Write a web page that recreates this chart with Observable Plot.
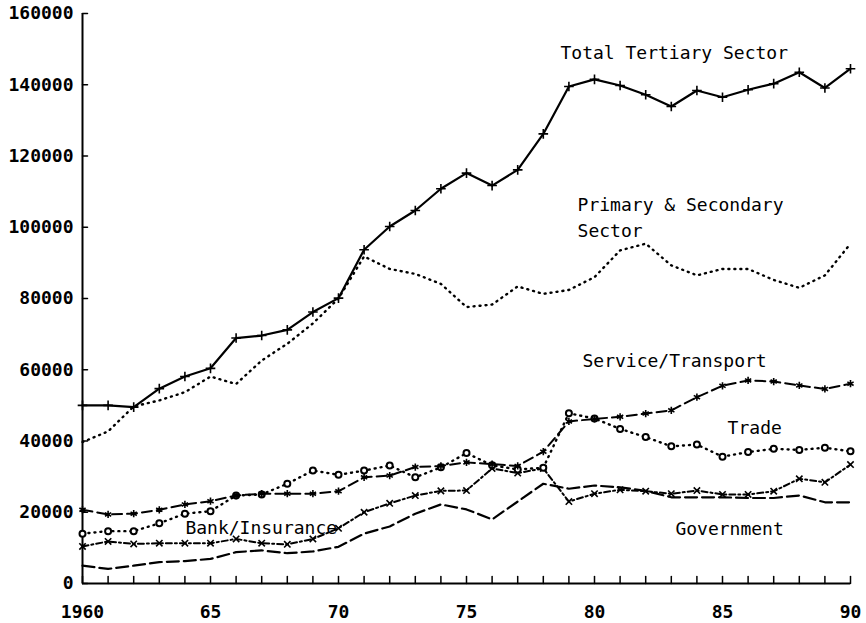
<!DOCTYPE html>
<html><head><meta charset="utf-8">
<script src="https://cdn.jsdelivr.net/npm/d3@7"></script>
<script src="https://cdn.jsdelivr.net/npm/@observablehq/plot@0.6"></script>
<style>body{margin:0;background:#fff}</style>
</head><body><div id="chart"></div>
<script>
const years = d3.range(1960, 1991);
const totalTertiary = [50000, 50000, 49500, 54700, 58100, 60400, 68900, 69600, 71200, 76200, 80100, 93700, 100200, 104700, 110800, 115200, 111700, 116100, 126200, 139500, 141500, 139800, 137200, 133900, 138400, 136500, 138600, 140300, 143500, 139100, 144500];
const primarySecondary = [39700, 42700, 49700, 51400, 53700, 58100, 56000, 62600, 67300, 73000, 80000, 91800, 88300, 86900, 84100, 77600, 78300, 83400, 81300, 82400, 86000, 93500, 95400, 89300, 86500, 88300, 88300, 85200, 83000, 86500, 95400];
const serviceTransport = [20700, 19400, 19600, 20700, 22200, 23100, 24700, 25200, 25200, 25200, 25900, 29800, 30300, 32700, 33000, 34000, 33500, 33000, 37000, 45500, 46200, 46800, 47700, 48600, 52300, 55500, 57000, 56700, 55600, 54600, 56100];
const trade = [14000, 14700, 14700, 16900, 19600, 20300, 24700, 25000, 28000, 31700, 30500, 31700, 33100, 29800, 32600, 36600, 33200, 32000, 32500, 47800, 46300, 43400, 41100, 38500, 39000, 35600, 36900, 37800, 37500, 38100, 37100];
const bankInsurance = [10400, 11800, 11100, 11300, 11300, 11300, 12500, 11300, 11000, 12500, 15500, 20000, 22500, 24700, 26000, 26100, 32300, 31000, 32300, 23000, 25200, 26300, 25900, 25200, 26100, 25000, 25000, 25900, 29400, 28400, 33400];
const government = [5000, 4100, 5000, 6000, 6300, 6900, 8800, 9300, 8500, 9000, 10300, 14000, 16000, 19600, 22200, 20800, 18000, 23000, 28000, 26600, 27500, 27000, 26000, 24200, 24200, 24200, 24000, 24000, 24700, 22800, 22800];

const xLabelYears = [1960, 1965, 1970, 1975, 1980, 1985, 1990];
const xLabelTexts = ["1960", "65", "70", "75", "80", "85", "90"];
const yTicks = [0, 20000, 40000, 60000, 80000, 100000, 120000, 140000, 160000];

// label anchors in data units
const labelTexts = ["Total Tertiary Sector", "Primary & Secondary\nSector", "Service/Transport", "Trade", "Government", "Bank/Insurance"];
const labelYears = [1978.67, 1979.34, 1979.53, 1985.2, 1983.16, 1964.02];
const labelValues = [149600, 103200, 62900, 44100, 16000, 16300];

const toRows = (vals) => vals.map((v, i) => ({year: years[i], value: v}));
const labels = labelTexts.map((t, i) => ({text: t, year: labelYears[i], value: labelValues[i]}));

const tickUp = {draw(ctx, l) { ctx.moveTo(0, 0); ctx.lineTo(0, -l); }};
const tickRight = {draw(ctx, l) { ctx.moveTo(0, 0); ctx.lineTo(l, 0); }};

const font = "DejaVu Sans Mono";

const chart = Plot.plot({
  width: 866, height: 623,
  marginLeft: 82, marginRight: 16, marginTop: 13, marginBottom: 40,
  x: {domain: [1960, 1990]},
  y: {domain: [0, 160000]},
  style: {fontFamily: font, background: "#fff", color: "#000"},
  marks: [
    Plot.axisY(yTicks, {tickSize: 0, tickPadding: 9, tickFormat: d3.format("d"), fontSize: 18, fontWeight: "bold", label: null}),
    Plot.axisX(xLabelYears, {tickSize: 0, tickPadding: 22, tickFormat: (d) => xLabelTexts[xLabelYears.indexOf(d)], fontSize: 18, fontWeight: "bold", label: null}),
    Plot.ruleX([1960], {strokeWidth: 2}),
    Plot.ruleY([0], {strokeWidth: 2}),
    Plot.vector(years, {x: (d) => d, y: () => 0, length: 7, anchor: "start", shape: tickUp, strokeWidth: 1.5, stroke: "#000"}),
    Plot.vector(yTicks, {x: () => 1960, y: (d) => d, length: 5, anchor: "start", shape: tickRight, strokeWidth: 1.5, stroke: "#000"}),

    Plot.line(toRows(government), {x: "year", y: "value", stroke: "#000", strokeWidth: 2.2, strokeDasharray: "12,5"}),

    Plot.line(toRows(bankInsurance), {x: "year", y: "value", stroke: "#000", strokeWidth: 2, strokeDasharray: "6,3,2,3"}),
    Plot.dot(toRows(bankInsurance), {x: "year", y: "value", symbol: "times", r: 3, stroke: "#000", strokeWidth: 1.6}),

    Plot.line(toRows(trade), {x: "year", y: "value", stroke: "#000", strokeWidth: 2.4, strokeDasharray: "1,5", strokeLinecap: "round"}),
    Plot.dot(toRows(trade), {x: "year", y: "value", symbol: "circle", r: 3, stroke: "#000", strokeWidth: 2, fill: "#fff"}),

    Plot.line(toRows(serviceTransport), {x: "year", y: "value", stroke: "#000", strokeWidth: 2, strokeDasharray: "10,5"}),
    Plot.dot(toRows(serviceTransport), {x: "year", y: "value", symbol: "asterisk", r: 3.4, stroke: "#000", strokeWidth: 1.6}),

    Plot.line(toRows(primarySecondary), {x: "year", y: "value", stroke: "#000", strokeWidth: 2.4, strokeDasharray: "1,5", strokeLinecap: "round"}),

    Plot.line(toRows(totalTertiary), {x: "year", y: "value", stroke: "#000", strokeWidth: 2.2}),
    Plot.dot(toRows(totalTertiary), {x: "year", y: "value", symbol: "plus", r: 3.2, stroke: "#000", strokeWidth: 1.6}),

    Plot.text(labels, {x: "year", y: "value", text: "text", textAnchor: "start", fontSize: 18, lineHeight: 1.4, fill: "#000"})
  ]
});
document.getElementById("chart").appendChild(chart);
</script>
</body></html>
